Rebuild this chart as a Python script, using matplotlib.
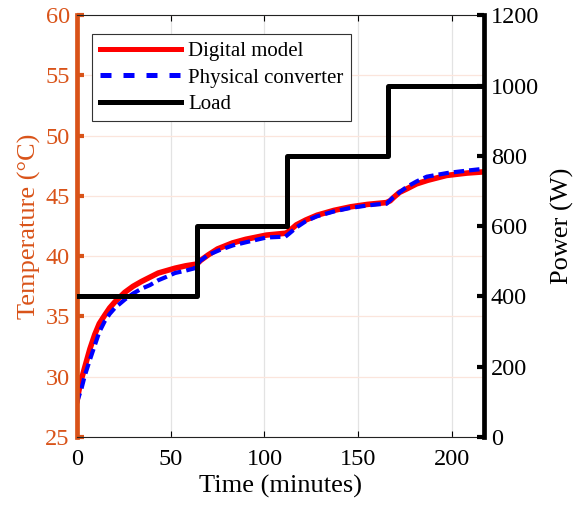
import matplotlib
matplotlib.use('Agg')
import matplotlib.pyplot as plt
from matplotlib.lines import Line2D

plt.rcParams['font.family'] = ['Liberation Serif', 'DejaVu Serif']

ORANGE = '#D95319'

# digital model temperature (deg C) vs time (minutes)
t_model = [0, 0.7, 2, 4.3, 7, 9.6, 12, 14.9, 17.5, 20.3, 25.6, 30, 34.5, 43.4,
           52.3, 58, 64, 66, 70, 75, 83, 90, 101, 111, 112, 114, 117, 122, 128,
           137, 146, 155, 165, 167, 169, 172, 176, 181, 187, 197, 208, 217]
temp_model = [27.8, 28.5, 29.5, 30.8, 32.3, 33.5, 34.4, 35.1, 35.7, 36.2, 37.0,
              37.5, 37.9, 38.6, 39.0, 39.2, 39.35, 39.65, 40.1, 40.6, 41.1, 41.4,
              41.75, 41.9, 41.95, 42.2, 42.6, 43.0, 43.4, 43.8, 44.1, 44.3, 44.45,
              44.6, 44.9, 45.3, 45.6, 46.0, 46.3, 46.7, 46.9, 47.0]

# physical converter temperature (deg C)
t_phys = [0, 1, 2.5, 4.3, 7, 9.6, 12, 14.9, 17.5, 20.3, 25.6, 30, 34.5, 39, 43.4,
          48, 52.3, 58, 62.9, 65.6, 70, 76, 83.3, 90, 101, 108, 111, 113, 117.2,
          122, 127.8, 136.7, 145.6, 154.5, 160, 165, 168.7, 172, 175.8, 181,
          186.5, 197.2, 207.8, 216.6]
temp_phys = [27.8, 28.3, 29.0, 30.1, 31.4, 32.6, 33.7, 34.6, 35.2, 35.7, 36.4,
             36.9, 37.3, 37.6, 38.0, 38.3, 38.6, 38.8, 39.0, 39.6, 40.1, 40.5,
             40.9, 41.15, 41.55, 41.6, 41.6, 41.85, 42.4, 42.9, 43.3, 43.7, 44.0,
             44.2, 44.3, 44.35, 44.9, 45.3, 45.75, 46.2, 46.6, 46.9, 47.1, 47.25]

# load power steps (W)
t_load = [0, 64, 64, 112, 112, 166, 166, 217]
p_load = [400, 400, 600, 600, 800, 800, 1000, 1000]

fig = plt.figure(figsize=(5.86, 5.08), dpi=100)
ax = fig.add_axes([0.131, 0.140, 0.695, 0.830])
ax2 = ax.twinx()

ax.plot(t_model, temp_model, color='#FF0000', lw=4.0, solid_capstyle='butt')
ax.plot(t_phys, temp_phys, color='#0000FF', lw=3.0, ls=(0, (2.5, 1.2)))
ax2.plot(t_load, p_load, color='black', lw=3.6)

ax.set_xlim(0, 217)
ax.set_ylim(25, 60)
ax2.set_ylim(0, 1200)
ax.set_xticks([0, 50, 100, 150, 200])
ax.set_yticks(range(25, 61, 5))
ax2.set_yticks(range(0, 1201, 200))

ax.grid(True, axis='x', color='#E3E3E3', lw=0.9)
ax.grid(True, axis='y', color='#FBE5DC', lw=0.9)
ax.set_axisbelow(True)

ax.set_xlabel('Time (minutes)', fontsize=19, labelpad=3)
ax.set_ylabel('Temperature (°C)', fontsize=19, color=ORANGE, labelpad=3)
ax2.set_ylabel('Power (W)', fontsize=19, color='black', labelpad=8)

ax.tick_params(axis='x', direction='in', length=4, width=0.8, labelsize=17.5,
               top=True, pad=9)
ax.tick_params(axis='y', direction='in', length=5, width=3, colors=ORANGE,
               labelsize=17.5, pad=5)
ax2.tick_params(axis='y', direction='in', length=5, width=3, colors='black',
                labelsize=17.5, pad=5)

for s in ['top', 'bottom']:
    ax.spines[s].set_linewidth(0.8)
    ax.spines[s].set_color('#222222')
ax.spines['left'].set_color(ORANGE)
ax.spines['left'].set_linewidth(3.4)
ax.spines['right'].set_visible(False)
for s in ['left', 'top', 'bottom']:
    ax2.spines[s].set_visible(False)
ax2.spines['right'].set_linewidth(3.4)
ax2.spines['right'].set_color('black')

handles = [Line2D([], [], color='#FF0000', lw=3.6),
           Line2D([], [], color='#0000FF', lw=3.6, ls=(0, (2.2, 2.4))),
           Line2D([], [], color='black', lw=3.6)]
leg = ax2.legend(handles, ['Digital model', 'Physical converter', 'Load'],
                 loc='upper left', bbox_to_anchor=(0.038, 0.955), fontsize=15,
                 handlelength=3.9, handletextpad=0.35, labelspacing=0.33,
                 borderpad=0.35, fancybox=False, framealpha=1,
                 edgecolor='#333333', borderaxespad=0)
leg.get_frame().set_linewidth(0.8)

fig.savefig('out.png', dpi=100)
plt.close(fig)
